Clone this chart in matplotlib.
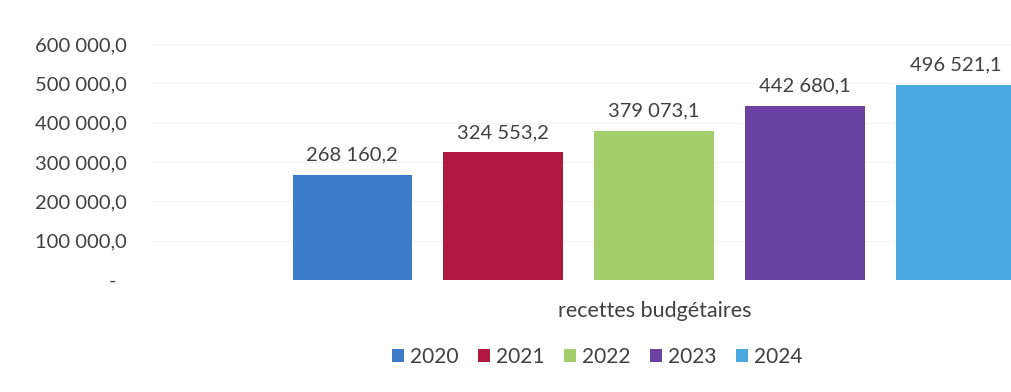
import numpy as np
import matplotlib.pyplot as plt
from matplotlib.ticker import FuncFormatter
from matplotlib.patches import Patch

plt.rcParams['font.family'] = ['Lato', 'DejaVu Sans']

category = 'recettes budgétaires'
years = ['2020', '2021', '2022', '2023', '2024']
values = [268160.2, 324553.2, 379073.1, 442680.1, 496521.1]
colors = ['#3c7bc8', '#b0183f', '#a2cf6b', '#6a40a0', '#4ba9df']

TEXT = '#404040'


def fr_number(v, decimals=1):
    s = f'{v:,.{decimals}f}'
    return s.replace(',', ' ').replace('.', ',')


def ytick_fmt(v, pos):
    if abs(v) < 1e-9:
        return '-  '
    return fr_number(v)


W, H = 1012, 392
fig = plt.figure(figsize=(W / 100, H / 100), dpi=100)
fig.patch.set_facecolor('white')

# axes extends past the right edge, the chart is cut off there
left_px, right_px = 150, 1158
bottom_px, top_px = 280, 44
ax = fig.add_axes([left_px / W, 1 - bottom_px / H,
                   (right_px - left_px) / W, (bottom_px - top_px) / H])

x = np.arange(len(years))
bars = ax.bar(x, values, width=0.79, color=colors, zorder=2)
ax.bar_label(bars, labels=[fr_number(v) for v in values],
             padding=8, fontsize=14.5, color=TEXT)

ax.set_xlim(-1.34, 5.34)
ax.set_ylim(0, 600000)
ax.set_yticks(np.arange(0, 600001, 100000))
ax.yaxis.set_major_formatter(FuncFormatter(ytick_fmt))
ax.tick_params(axis='y', length=0, pad=17, labelsize=14.5, labelcolor=TEXT)
ax.set_xticks([])
ax.grid(axis='y', color='#f4f4f4', linewidth=0.8, zorder=0)
for sp in ax.spines.values():
    sp.set_visible(False)

fig.text(655 / W, 1 - 311 / H, category, ha='center', va='center',
         fontsize=15.5, color=TEXT)

handles = [Patch(facecolor=c, edgecolor='none') for c in colors]
fig.legend(handles, years, loc='center', bbox_to_anchor=(597 / W, 1 - 357 / H),
           ncol=5, frameon=False, fontsize=15, labelcolor=TEXT,
           handlelength=0.6, handleheight=0.6, handletextpad=0.25,
           columnspacing=0.95)

fig.savefig('out.png', dpi=100)
